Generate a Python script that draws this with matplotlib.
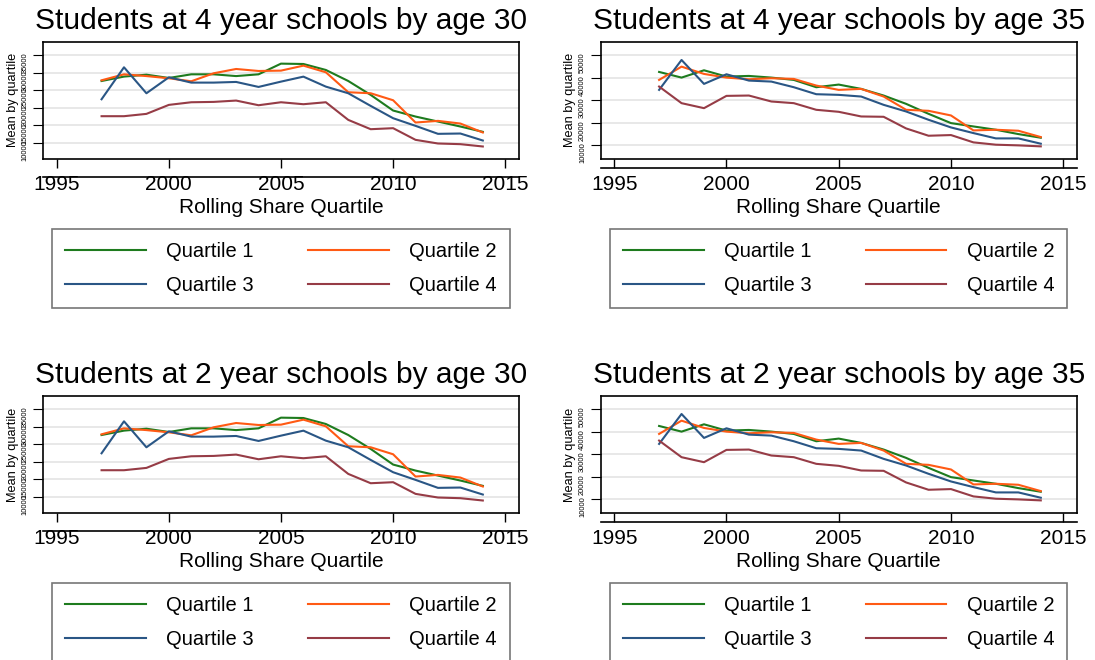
import matplotlib
matplotlib.use('Agg')
import matplotlib.pyplot as plt
from matplotlib.lines import Line2D
from matplotlib.transforms import ScaledTranslation

plt.rcParams['font.family'] = ['Liberation Sans', 'DejaVu Sans']

years = list(range(1997, 2015))

# mean by quartile, age 30
q1_age30 = [27600, 28850, 29400, 28460, 29500, 29500, 29000, 29500, 32540, 32440,
            30740, 27600, 23640, 19190, 17480, 16060, 14640, 13130]
q2_age30 = [27800, 29500, 29000, 28370, 27520, 29800, 31020, 30450, 30550, 31970,
            30080, 24400, 24110, 22120, 15780, 16250, 15490, 12940]
q3_age30 = [22400, 31500, 24110, 28650, 27140, 27140, 27330, 25910, 27420, 28840,
            26000, 24110, 20510, 17010, 14830, 12560, 12650, 10660]
q4_age30 = [17580, 17580, 18240, 20800, 21550, 21650, 22030, 20700, 21550, 20990,
            21550, 16530, 13880, 14170, 10850, 9810, 9620, 8960]

# mean by quartile, age 35
q1_age35 = [42470, 39960, 43210, 40410, 40700, 39960, 38930, 35680, 36860, 34940,
            31990, 28300, 23870, 19740, 18260, 16790, 14870, 13250]
q2_age35 = [38930, 44830, 41590, 39960, 39220, 39670, 39370, 36420, 34500, 34940,
            31550, 25650, 25200, 23140, 16500, 16790, 16350, 13540]
q3_age35 = [34500, 47790, 37160, 41440, 38630, 38190, 35680, 32580, 32290, 31550,
            27860, 24910, 21220, 17820, 15310, 12950, 12950, 10590]
q4_age35 = [35980, 28600, 26380, 31840, 31990, 29340, 28600, 25650, 24760, 22690,
            22550, 17380, 14130, 14430, 11180, 10150, 9850, 9410]

yticks_age30 = [10000, 15000, 20000, 25000, 30000, 35000]
yticks_age35 = [10000, 20000, 30000, 40000, 50000]
xticks = [1995, 2000, 2005, 2010, 2015]

labels = ['Quartile 1', 'Quartile 2', 'Quartile 3', 'Quartile 4']
colors = ['#1e7b1e', '#ff5a14', '#2a5685', '#963c46']

panels = [
    ('Students at 4 year schools by age 30', [q1_age30, q2_age30, q3_age30, q4_age30], yticks_age30, (5400, 38780)),
    ('Students at 4 year schools by age 35', [q1_age35, q2_age35, q3_age35, q4_age35], yticks_age35, (3800, 55900)),
    ('Students at 2 year schools by age 30', [q1_age30, q2_age30, q3_age30, q4_age30], yticks_age30, (5400, 38780)),
    ('Students at 2 year schools by age 35', [q1_age35, q2_age35, q3_age35, q4_age35], yticks_age35, (3800, 55900)),
]

positions = [
    [0.0395, 0.7591, 0.4342, 0.1777],
    [0.5486, 0.7591, 0.4347, 0.1777],
    [0.0395, 0.2227, 0.4342, 0.1777],
    [0.5486, 0.2227, 0.4347, 0.1777],
]
# where the separate x axis line sits below the plot box (points)
axis_offsets = [12.7, 6.3, 12.7, 6.3]

fig = plt.figure(figsize=(10.95, 6.6), dpi=100)

for (title, series, yt, ylim), pos, off in zip(panels, positions, axis_offsets):
    ax = fig.add_axes(pos)
    handles = []
    for vals, lab, col in zip(series, labels, colors):
        h, = ax.plot(years, vals, color=col, lw=1.5, label=lab)
        handles.append(h)

    ax.set_xlim(1994.4, 2015.6)
    ax.set_ylim(*ylim)
    ax.set_xticks(xticks)
    ax.set_yticks(yt)
    ax.set_yticklabels([str(v) for v in yt])
    ax.grid(axis='y', color='#e4e4e4', lw=1.2)
    ax.set_axisbelow(True)

    for s in ax.spines.values():
        s.set_linewidth(1.2)
        s.set_color('black')

    ax.tick_params(axis='x', direction='out', length=6.7, width=1.0,
                   labelsize=15, pad=4.8)
    ax.tick_params(axis='y', direction='out', length=7.5, width=0.8,
                   labelsize=5.4, labelrotation=90, pad=3.0)

    trans = ax.transAxes + ScaledTranslation(0, -off / 72, fig.dpi_scale_trans)
    ax.add_line(Line2D([0, 1], [0, 0], transform=trans, color='black',
                       lw=1.2, clip_on=False))

    ax.set_title(title, fontsize=21.5, pad=9)
    ax.set_xlabel('Rolling Share Quartile', fontsize=15, labelpad=3)
    ax.set_ylabel('Mean by quartile', fontsize=9.2, labelpad=2)

    # row-wise legend order: Q1 Q2 / Q3 Q4
    order = [0, 2, 1, 3]
    leg = ax.legend([handles[i] for i in order], [labels[i] for i in order],
                    loc='upper center', bbox_to_anchor=(0.5, -0.597), ncol=2,
                    borderaxespad=0, frameon=True, fancybox=False,
                    edgecolor='#555555', fontsize=14.5, handlelength=4.0,
                    handletextpad=1.0, columnspacing=2.7, labelspacing=0.72,
                    borderpad=0.65)
    leg.get_frame().set_linewidth(1.2)

fig.savefig('out.png', dpi=100)
